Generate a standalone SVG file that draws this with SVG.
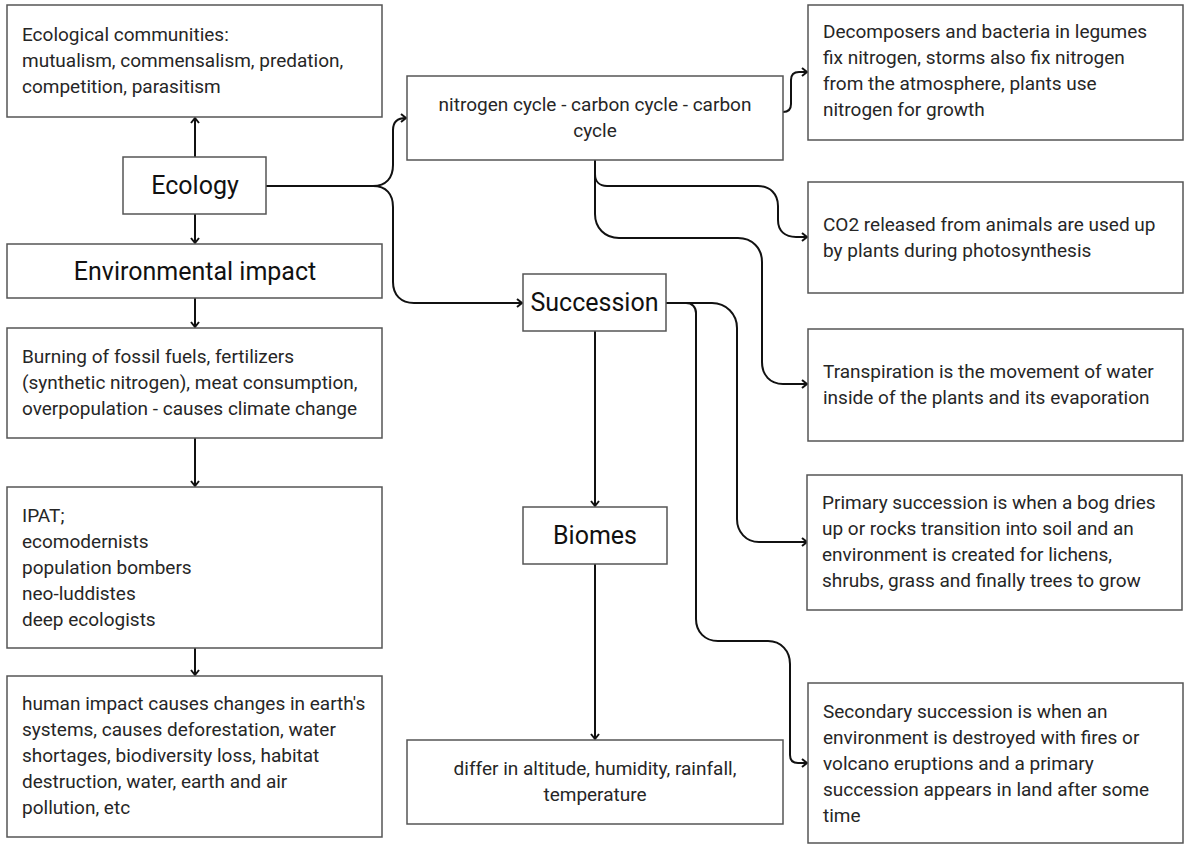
<svg xmlns="http://www.w3.org/2000/svg" width="1185" height="846" viewBox="0 0 1185 846">
<style>
.box{fill:#fff;stroke:#555;stroke-width:1.5}
.t{font-family:Roboto,"Liberation Sans",sans-serif;font-size:19px;fill:#262626}
.ti{font-family:Roboto,"Liberation Sans",sans-serif;font-size:25px;fill:#111}
.c{fill:none;stroke:#111;stroke-width:2}
</style>
<defs>
<marker id="ah" markerWidth="10" markerHeight="10" refX="8" refY="5" orient="auto" markerUnits="userSpaceOnUse">
<path d="M3,1 L8,5 L3,9" fill="none" stroke="#111" stroke-width="2"/>
</marker>
</defs>
<rect width="1185" height="846" fill="#fff"/>
<g id="connectors">
<path class="c" marker-end="url(#ah)" d="M195,157 V118"/>
<path class="c" marker-end="url(#ah)" d="M195,214 V243"/>
<path class="c" marker-end="url(#ah)" d="M195,298 V327"/>
<path class="c" marker-end="url(#ah)" d="M195,438 V486"/>
<path class="c" marker-end="url(#ah)" d="M195,648 V675"/>
<path class="c" marker-end="url(#ah)" d="M595,331 V506"/>
<path class="c" marker-end="url(#ah)" d="M595,564 V739"/>
<path class="c" marker-end="url(#ah)" d="M266,186 H373 C386,186 393,178 393,165 V130 C393,122 398,118 406,118"/>
<path class="c" marker-end="url(#ah)" d="M266,186 H373 C386,186 393,194 393,207 V282 C393,295 401,303 414,303 H522"/>
<path class="c" marker-end="url(#ah)" d="M783,112 C789,112 791,109 791,104 V80 C791,75 794,72 799,72 H807"/>
<path class="c" marker-end="url(#ah)" d="M595,160 V174 C595,181 599,186 607,186 H758 C770,186 778,194 778,206 V220 C778,231 785,237 796,237 H807"/>
<path class="c" marker-end="url(#ah)" d="M595,160 V214 C595,228 605,238 619,238 H738 C752,238 762,248 762,262 V362 C762,375 770,384 783,384 H807"/>
<path class="c" marker-end="url(#ah)" d="M666,303 H712 C726,303 737,314 737,328 V519 C737,532 746,542 759,542 H807"/>
<path class="c" marker-end="url(#ah)" d="M666,303 H686 C692,303 696,307 696,313 V619 C696,632 705,641 718,641 H768 C781,641 790,651 790,664 V755 C790,760 793,763 798,763 H807"/>
</g>
<g id="communities">
<rect class="box" x="7" y="5" width="375" height="112"/>
<text class="t"><tspan x="22" y="41">Ecological communities:</tspan><tspan x="22" y="67">mutualism, commensalism, predation,</tspan><tspan x="22" y="93">competition, parasitism</tspan></text>
</g>
<g id="ecology">
<rect class="box" x="123" y="157" width="143" height="57"/>
<text class="ti" x="195" y="194" text-anchor="middle">Ecology</text>
</g>
<g id="envimpact">
<rect class="box" x="7" y="244" width="375" height="54"/>
<text class="ti" x="195" y="280" text-anchor="middle">Environmental impact</text>
</g>
<g id="burning">
<rect class="box" x="7" y="328" width="375" height="110"/>
<text class="t"><tspan x="22" y="363">Burning of fossil fuels, fertilizers</tspan><tspan x="22" y="389">(synthetic nitrogen), meat consumption,</tspan><tspan x="22" y="415">overpopulation - causes climate change</tspan></text>
</g>
<g id="ipat">
<rect class="box" x="7" y="487" width="375" height="161"/>
<text class="t"><tspan x="22" y="522">IPAT;</tspan><tspan x="22" y="548">ecomodernists</tspan><tspan x="22" y="574">population bombers</tspan><tspan x="22" y="600">neo-luddistes</tspan><tspan x="22" y="626">deep ecologists</tspan></text>
</g>
<g id="human">
<rect class="box" x="7" y="676" width="375" height="161"/>
<text class="t"><tspan x="22" y="710">human impact causes changes in earth's</tspan><tspan x="22" y="736">systems, causes deforestation, water</tspan><tspan x="22" y="762">shortages, biodiversity loss, habitat</tspan><tspan x="22" y="788">destruction, water, earth and air</tspan><tspan x="22" y="814">pollution, etc</tspan></text>
</g>
<g id="cycles">
<rect class="box" x="407" y="76" width="376" height="84"/>
<text class="t" text-anchor="middle"><tspan x="595" y="111">nitrogen cycle - carbon cycle - carbon</tspan><tspan x="595" y="137">cycle</tspan></text>
</g>
<g id="succession">
<rect class="box" x="523" y="274" width="143" height="57"/>
<text class="ti" x="594.5" y="311" text-anchor="middle">Succession</text>
</g>
<g id="biomes">
<rect class="box" x="523" y="507" width="144" height="57"/>
<text class="ti" x="595" y="544" text-anchor="middle">Biomes</text>
</g>
<g id="differ">
<rect class="box" x="407" y="740" width="376" height="84"/>
<text class="t" text-anchor="middle"><tspan x="595" y="775">differ in altitude, humidity, rainfall,</tspan><tspan x="595" y="801">temperature</tspan></text>
</g>
<g id="decomposers">
<rect class="box" x="808" y="5" width="375" height="135"/>
<text class="t"><tspan x="823" y="38">Decomposers and bacteria in legumes</tspan><tspan x="823" y="64">fix nitrogen, storms also fix nitrogen</tspan><tspan x="823" y="90">from the atmosphere, plants use</tspan><tspan x="823" y="116">nitrogen for growth</tspan></text>
</g>
<g id="co2">
<rect class="box" x="808" y="182" width="375" height="111"/>
<text class="t"><tspan x="823" y="231">CO2 released from animals are used up</tspan><tspan x="823" y="257">by plants during photosynthesis</tspan></text>
</g>
<g id="transpiration">
<rect class="box" x="808" y="329" width="375" height="112"/>
<text class="t"><tspan x="823" y="378">Transpiration is the movement of water</tspan><tspan x="823" y="404">inside of the plants and its evaporation</tspan></text>
</g>
<g id="primary">
<rect class="box" x="807" y="475" width="375" height="135"/>
<text class="t"><tspan x="822" y="509">Primary succession is when a bog dries</tspan><tspan x="822" y="535">up or rocks transition into soil and an</tspan><tspan x="822" y="561">environment is created for lichens,</tspan><tspan x="822" y="587">shrubs, grass and finally trees to grow</tspan></text>
</g>
<g id="secondary">
<rect class="box" x="808" y="683" width="375" height="160"/>
<text class="t"><tspan x="823" y="718">Secondary succession is when an</tspan><tspan x="823" y="744">environment is destroyed with fires or</tspan><tspan x="823" y="770">volcano eruptions and a primary</tspan><tspan x="823" y="796">succession appears in land after some</tspan><tspan x="823" y="822">time</tspan></text>
</g>
</svg>
